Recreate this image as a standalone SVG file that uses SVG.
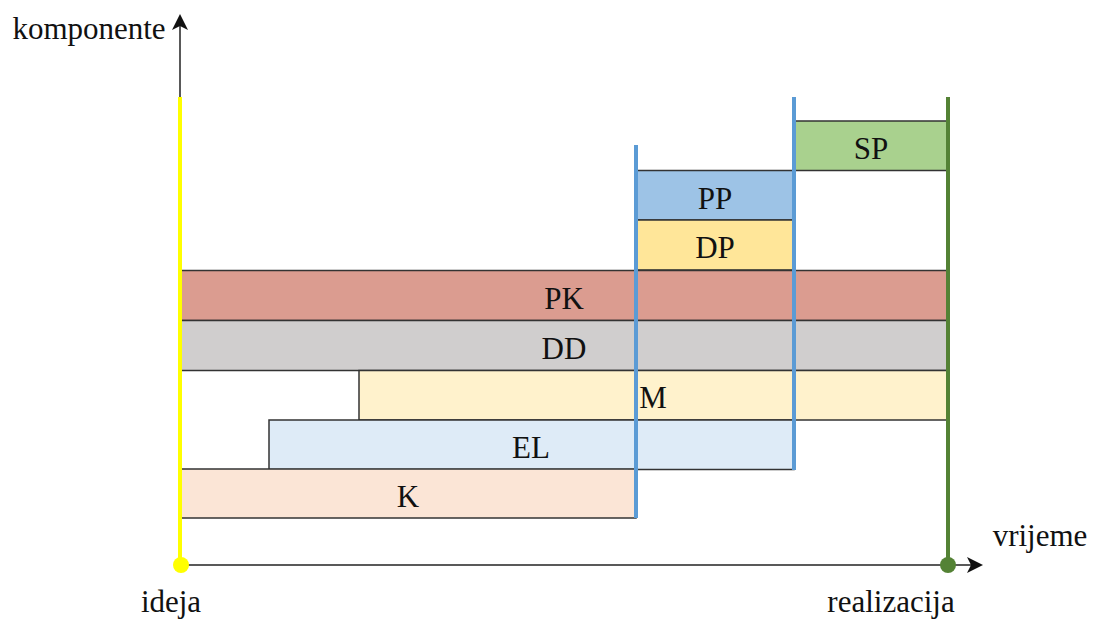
<svg xmlns="http://www.w3.org/2000/svg" width="1093" height="621" viewBox="0 0 1093 621">
<style>
.bar{stroke:#333;stroke-width:1.5}
.lbl{font-family:"Liberation Serif","Times New Roman",serif;font-size:31px;fill:#111;text-anchor:middle}
.ax{stroke:#222;stroke-width:1.5;fill:none}
.vb{stroke:#5b9bd5;stroke-width:4;fill:none}
</style>
<rect width="1093" height="621" fill="#fff"/>
<g id="bars">
<g id="SP"><rect class="bar" x="794" y="121" width="154" height="49.5" fill="#a9d18e"/><text class="lbl" x="871" y="159">SP</text></g>
<g id="PP"><rect class="bar" x="636" y="170.5" width="158" height="49.5" fill="#9dc3e6"/><text class="lbl" x="715" y="208.5">PP</text></g>
<g id="DP"><rect class="bar" x="636" y="220" width="158" height="50" fill="#ffe699"/><text class="lbl" x="715" y="258">DP</text></g>
<g id="PK"><rect class="bar" x="180" y="270.5" width="768" height="50" fill="#db9c90"/><text class="lbl" x="564" y="308.5">PK</text></g>
<g id="DD"><rect class="bar" x="180" y="320.5" width="768" height="50" fill="#d0cece"/><text class="lbl" x="564" y="358.5">DD</text></g>
<g id="M"><rect class="bar" x="359" y="370.5" width="589" height="49.5" fill="#fff2cc"/><text class="lbl" x="653" y="408">M</text></g>
<g id="EL"><rect class="bar" x="269" y="420" width="525" height="49.5" fill="#deebf7"/><text class="lbl" x="531" y="458">EL</text></g>
<g id="K"><rect class="bar" x="180" y="469" width="456" height="49" fill="#fbe5d6"/><text class="lbl" x="408" y="507">K</text></g>
</g>
<g id="connectors">
<line class="ax" x1="180" y1="565" x2="180" y2="22"/>
<path d="M180,14 L172,30 L180,26 L188,30 Z" fill="#111"/>
<line class="ax" x1="180" y1="565" x2="975" y2="565"/>
<path d="M983,565 L967,557 L971,565 L967,573 Z" fill="#111"/>
<line x1="180" y1="97" x2="180" y2="565" stroke="#ffff00" stroke-width="4"/>
<line class="vb" x1="636" y1="145" x2="636" y2="518"/>
<line class="vb" x1="794" y1="97" x2="794" y2="470"/>
<line x1="948" y1="97" x2="948" y2="565" stroke="#548235" stroke-width="4"/>
</g>
<g id="ideja"><circle cx="181" cy="565" r="8" fill="#ffff00"/><text class="lbl" x="171" y="612">ideja</text></g>
<g id="realizacija"><circle cx="948" cy="565" r="8" fill="#548235"/><text class="lbl" x="891" y="612">realizacija</text></g>
<g id="labels">
<text class="lbl" x="89" y="39">komponente</text>
<text class="lbl" x="1040" y="546">vrijeme</text>
</g>
</svg>
